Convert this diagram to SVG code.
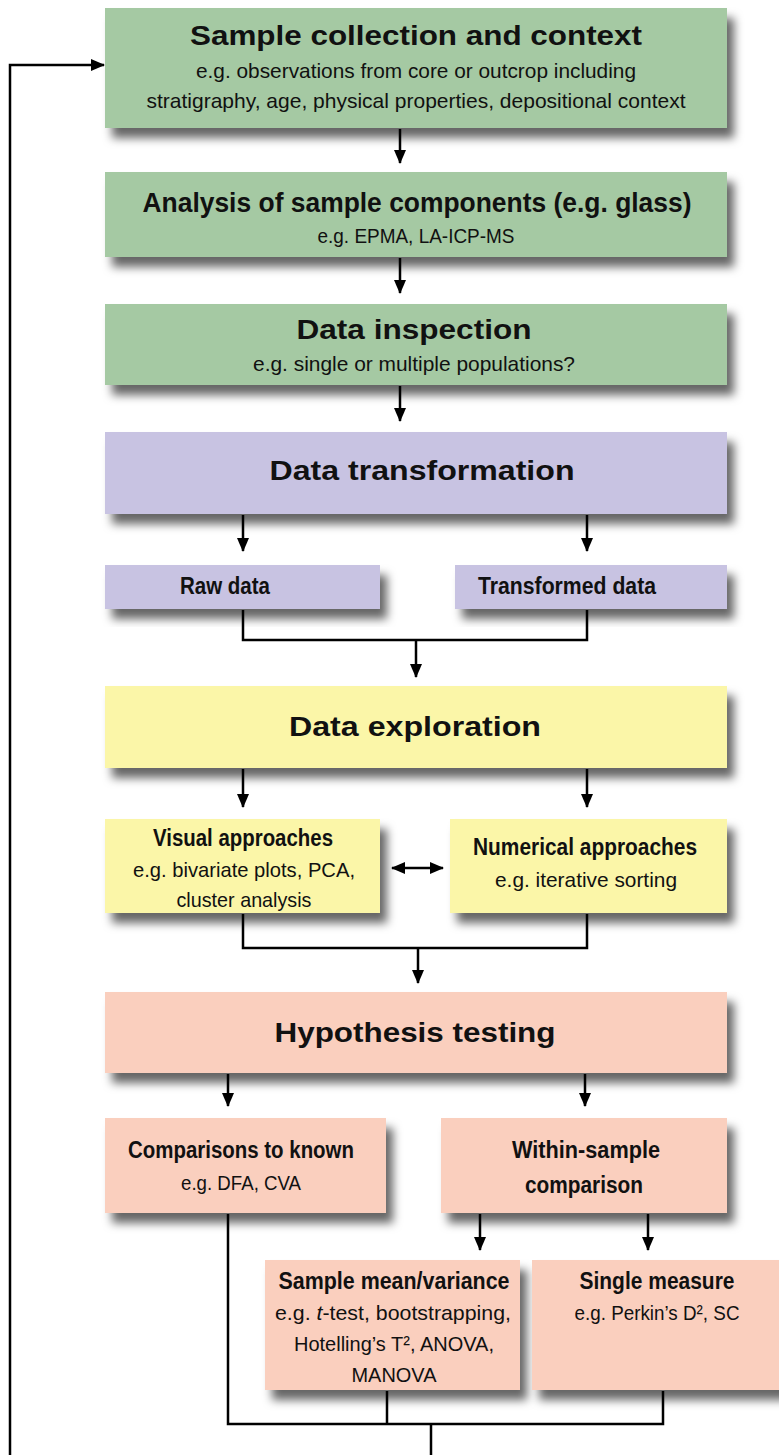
<svg xmlns="http://www.w3.org/2000/svg" width="779" height="1455" viewBox="0 0 779 1455">
<defs>
<filter id="sh" x="-10%" y="-20%" width="125%" height="160%">
<feDropShadow dx="7" dy="10" stdDeviation="5" flood-color="#000" flood-opacity="0.6"/>
</filter>
<marker id="ah" viewBox="0 0 14 12" refX="13" refY="6" markerWidth="14" markerHeight="12" markerUnits="userSpaceOnUse" orient="auto-start-reverse">
<path d="M0,0 L14,6 L0,12 z" fill="#000"/>
</marker>
</defs>
<style>
.g{fill:#a5c9a3}
.p{fill:#c8c3e2}
.y{fill:#fbf6a8}
.s{fill:#facfbe}
.bx{filter:url(#sh)}
text{font-family:"Liberation Sans Narrow","Liberation Sans",Arial,sans-serif;fill:#111;text-anchor:middle}
.t1{font-size:28px;font-weight:bold}
.t2{font-size:23px;font-weight:bold}
.tx{font-size:21px}
.ln{fill:none;stroke:#000;stroke-width:2.5}
.ar{fill:none;stroke:#000;stroke-width:2.5;marker-end:url(#ah)}
</style>
<rect width="779" height="1455" fill="#fff"/>

<g id="n1">
<rect class="g bx" x="105" y="8" width="622" height="120"/>
<text class="t1" x="416" y="45" textLength="452" lengthAdjust="spacingAndGlyphs">Sample collection and context</text>
<text class="tx" x="416" y="78" textLength="440" lengthAdjust="spacingAndGlyphs">e.g. observations from core or outcrop including</text>
<text class="tx" x="416" y="108" textLength="539" lengthAdjust="spacingAndGlyphs">stratigraphy, age, physical properties, depositional context</text>
</g>
<g id="n2">
<rect class="g bx" x="105" y="172" width="622" height="85"/>
<text class="t1" x="417" y="212" textLength="549" lengthAdjust="spacingAndGlyphs">Analysis of sample components (e.g. glass)</text>
<text class="tx" x="416" y="243" textLength="197" lengthAdjust="spacingAndGlyphs">e.g. EPMA, LA-ICP-MS</text>
</g>
<g id="n3">
<rect class="g bx" x="105" y="304" width="622" height="81"/>
<text class="t1" x="414" y="339" textLength="235" lengthAdjust="spacingAndGlyphs">Data inspection</text>
<text class="tx" x="414" y="371" textLength="322" lengthAdjust="spacingAndGlyphs">e.g. single or multiple populations?</text>
</g>
<g id="n4">
<rect class="p bx" x="105" y="432" width="622" height="82"/>
<text class="t1" x="422" y="480" textLength="305" lengthAdjust="spacingAndGlyphs">Data transformation</text>
</g>
<g id="n5">
<rect class="p bx" x="105" y="565" width="275" height="44"/>
<text class="t2" x="225" y="594" textLength="90" lengthAdjust="spacingAndGlyphs">Raw data</text>
</g>
<g id="n6">
<rect class="p bx" x="455" y="565" width="272" height="44"/>
<text class="t2" x="567" y="594" textLength="178" lengthAdjust="spacingAndGlyphs">Transformed data</text>
</g>
<g id="n7">
<rect class="y bx" x="105" y="686" width="622" height="82"/>
<text class="t1" x="415" y="736" textLength="252" lengthAdjust="spacingAndGlyphs">Data exploration</text>
</g>
<g id="n8">
<rect class="y bx" x="105" y="819" width="275" height="94"/>
<text class="t2" x="243" y="846" textLength="180" lengthAdjust="spacingAndGlyphs">Visual approaches</text>
<text class="tx" x="244" y="877" textLength="222" lengthAdjust="spacingAndGlyphs">e.g. bivariate plots, PCA,</text>
<text class="tx" x="244" y="907" textLength="135" lengthAdjust="spacingAndGlyphs">cluster analysis</text>
</g>
<g id="n9">
<rect class="y bx" x="450" y="819" width="277" height="94"/>
<text class="t2" x="585" y="855" textLength="224" lengthAdjust="spacingAndGlyphs">Numerical approaches</text>
<text class="tx" x="586" y="887" textLength="182" lengthAdjust="spacingAndGlyphs">e.g. iterative sorting</text>
</g>
<g id="n10">
<rect class="s bx" x="105" y="992" width="622" height="81"/>
<text class="t1" x="415" y="1042" textLength="281" lengthAdjust="spacingAndGlyphs">Hypothesis testing</text>
</g>
<g id="n11">
<rect class="s bx" x="105" y="1118" width="281" height="95"/>
<text class="t2" x="241" y="1158" textLength="226" lengthAdjust="spacingAndGlyphs">Comparisons to known</text>
<text class="tx" x="241" y="1190" textLength="120" lengthAdjust="spacingAndGlyphs">e.g. DFA, CVA</text>
</g>
<g id="n12">
<rect class="s bx" x="441" y="1118" width="286" height="95"/>
<text class="t2" x="586" y="1158" textLength="148" lengthAdjust="spacingAndGlyphs">Within-sample</text>
<text class="t2" x="584" y="1193" textLength="118" lengthAdjust="spacingAndGlyphs">comparison</text>
</g>
<g id="n13">
<rect class="s bx" x="265" y="1260" width="255" height="130"/>
<text class="t2" x="394" y="1289" textLength="231" lengthAdjust="spacingAndGlyphs">Sample mean/variance</text>
<text class="tx" x="393" y="1320" textLength="236" lengthAdjust="spacingAndGlyphs">e.g. <tspan font-style="italic">t</tspan>-test, bootstrapping,</text>
<text class="tx" x="394" y="1351" textLength="200" lengthAdjust="spacingAndGlyphs">Hotelling’s T², ANOVA,</text>
<text class="tx" x="394" y="1382" textLength="85" lengthAdjust="spacingAndGlyphs">MANOVA</text>
</g>
<g id="n14">
<rect class="s bx" x="532" y="1260" width="260" height="130"/>
<text class="t2" x="657" y="1289" textLength="155" lengthAdjust="spacingAndGlyphs">Single measure</text>
<text class="tx" x="657" y="1320" textLength="165" lengthAdjust="spacingAndGlyphs">e.g. Perkin’s D², SC</text>
</g>

<g id="connectors">
<line class="ar" x1="400" y1="129" x2="400" y2="163"/>
<line class="ar" x1="400" y1="258" x2="400" y2="293"/>
<line class="ar" x1="400" y1="386" x2="400" y2="421"/>
<line class="ar" x1="243" y1="515" x2="243" y2="551"/>
<line class="ar" x1="587" y1="515" x2="587" y2="551"/>
<path class="ln" d="M243,610 V640 H587 V610"/>
<line class="ar" x1="416" y1="640" x2="416" y2="677"/>
<line class="ar" x1="243" y1="769" x2="243" y2="807"/>
<line class="ar" x1="587" y1="769" x2="587" y2="807"/>
<line class="ln" x1="392" y1="868" x2="443" y2="868" marker-start="url(#ah)" marker-end="url(#ah)"/>
<path class="ln" d="M243,914 V948 H587 V914"/>
<line class="ar" x1="418" y1="948" x2="418" y2="983"/>
<line class="ar" x1="228" y1="1074" x2="228" y2="1106"/>
<line class="ar" x1="585" y1="1074" x2="585" y2="1106"/>
<line class="ar" x1="480" y1="1214" x2="480" y2="1250"/>
<line class="ar" x1="648" y1="1214" x2="648" y2="1250"/>
<path class="ln" d="M228,1214 V1424 H663 V1391"/>
<line class="ln" x1="387" y1="1391" x2="387" y2="1424"/>
<line class="ln" x1="431" y1="1424" x2="431" y2="1456"/>
<path class="ar" d="M10,1456 V65 H104"/>
</g>
</svg>
